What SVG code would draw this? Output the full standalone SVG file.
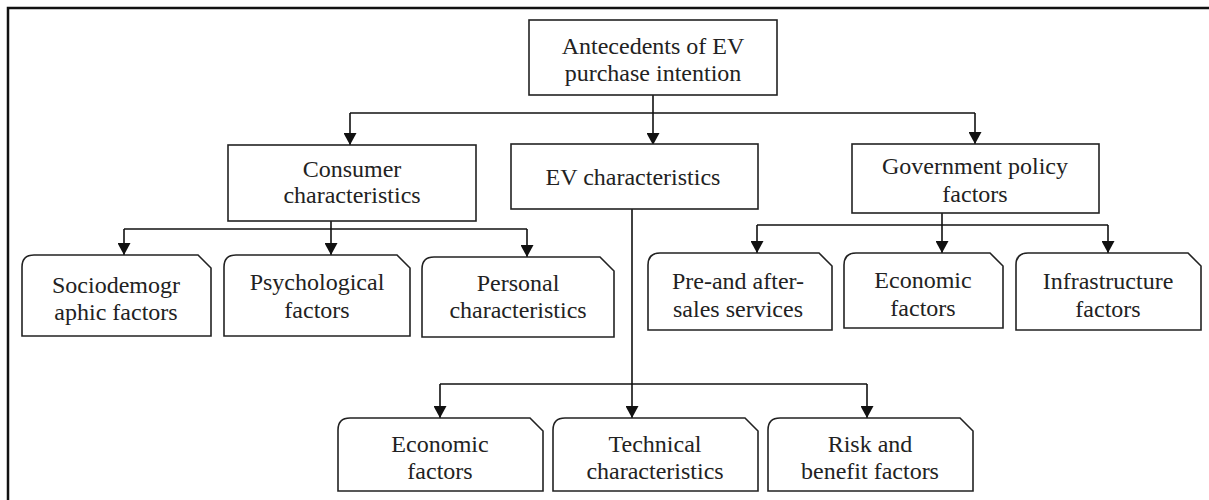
<svg xmlns="http://www.w3.org/2000/svg" width="1209" height="500" viewBox="0 0 1209 500">
<style>
.box{fill:#fff;stroke:#222;stroke-width:1.6}
.ln{fill:none;stroke:#111;stroke-width:1.6}
.arr{fill:none;stroke:#111;stroke-width:1.6;marker-end:url(#ah)}
text{font-family:"Liberation Serif","Times New Roman",serif;font-size:24px;fill:#222;text-anchor:middle}
.frame{fill:none;stroke:#111;stroke-width:2.5}
</style>
<defs>
<marker id="ah" markerUnits="userSpaceOnUse" markerWidth="13" markerHeight="13" refX="12" refY="6.5" orient="auto">
<path d="M0,0 L12,6.5 L0,13 Z" fill="#111"/>
</marker>
</defs>
<rect width="1209" height="500" fill="#fff"/>
<path class="frame" d="M8,500 V8 H1209"/>

<g id="connectors">
<path class="arr" d="M653,95 V145"/>
<path class="ln" d="M350,113 H975"/>
<path class="arr" d="M350,113 V145"/>
<path class="arr" d="M975,113 V144"/>
<path class="arr" d="M331,221 V255"/>
<path class="ln" d="M124,229 H527"/>
<path class="arr" d="M124,229 V255"/>
<path class="arr" d="M527,229 V257"/>
<path class="arr" d="M942,213 V253"/>
<path class="ln" d="M757,225 H1108"/>
<path class="arr" d="M757,225 V253"/>
<path class="arr" d="M1108,225 V253"/>
<path class="arr" d="M632,209 V418"/>
<path class="ln" d="M440,384 H867"/>
<path class="arr" d="M440,384 V418"/>
<path class="arr" d="M867,384 V418"/>
</g>

<g id="root">
<rect class="box" x="529" y="20" width="248" height="75"/>
<text x="653" y="54">Antecedents of EV</text>
<text x="653" y="81">purchase intention</text>
</g>
<g id="consumer">
<rect class="box" x="228" y="145" width="248" height="76"/>
<text x="352" y="177">Consumer</text>
<text x="352" y="203">characteristics</text>
</g>
<g id="ev">
<rect class="box" x="511" y="144" width="247" height="65"/>
<text x="633" y="185">EV characteristics</text>
</g>
<g id="gov">
<rect class="box" x="852" y="144" width="247" height="69"/>
<text x="975" y="174">Government policy</text>
<text x="975" y="202">factors</text>
</g>

<g id="sociodemographic">
<path class="box" d="M22,267 Q22,255 34,255 H198 L211,268 V336 H22 Z"/>
<text x="116" y="293">Sociodemogr</text>
<text x="116" y="320">aphic factors</text>
</g>
<g id="psychological">
<path class="box" d="M224,267 Q224,255 236,255 H397 L410,268 V336 H224 Z"/>
<text x="317" y="290">Psychological</text>
<text x="317" y="318">factors</text>
</g>
<g id="personal">
<path class="box" d="M422,269 Q422,257 434,257 H600 L614,271 V337 H422 Z"/>
<text x="518" y="291">Personal</text>
<text x="518" y="318">characteristics</text>
</g>

<g id="presales">
<path class="box" d="M648,265 Q648,253 660,253 H819 L832,266 V330 H648 Z"/>
<text x="738" y="289">Pre-and after-</text>
<text x="738" y="317">sales services</text>
</g>
<g id="gov-economic">
<path class="box" d="M844,265 Q844,253 856,253 H990 L1003,266 V328 H844 Z"/>
<text x="923" y="288">Economic</text>
<text x="923" y="316">factors</text>
</g>
<g id="infrastructure">
<path class="box" d="M1016,265 Q1016,253 1028,253 H1188 L1201,266 V330 H1016 Z"/>
<text x="1108" y="289">Infrastructure</text>
<text x="1108" y="317">factors</text>
</g>

<g id="ev-economic">
<path class="box" d="M338,430 Q338,418 350,418 H530 L543,431 V491 H338 Z"/>
<text x="440" y="452">Economic</text>
<text x="440" y="479">factors</text>
</g>
<g id="technical">
<path class="box" d="M553,430 Q553,418 565,418 H745 L758,431 V491 H553 Z"/>
<text x="655" y="452">Technical</text>
<text x="655" y="479">characteristics</text>
</g>
<g id="risk">
<path class="box" d="M768,430 Q768,418 780,418 H960 L973,431 V491 H768 Z"/>
<text x="870" y="452">Risk and</text>
<text x="870" y="479">benefit factors</text>
</g>
</svg>
